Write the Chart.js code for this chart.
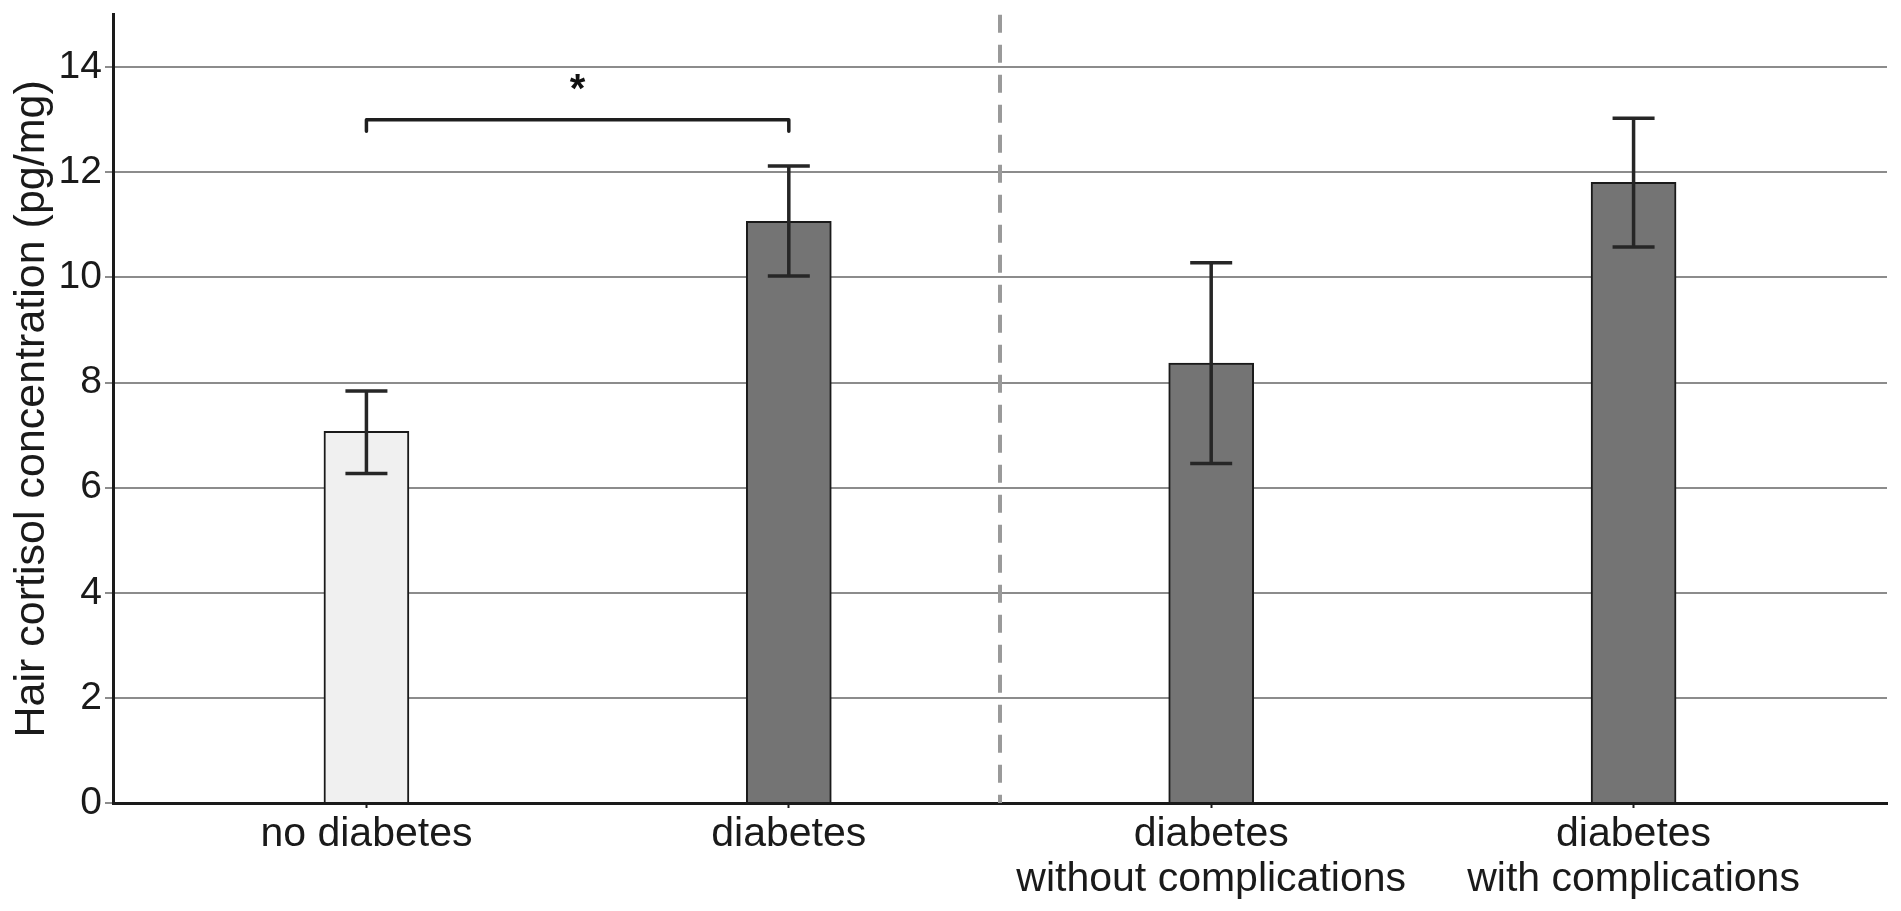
<!DOCTYPE html>
<html>
<head>
<meta charset="utf-8">
<script src="https://cdn.jsdelivr.net/npm/chart.js@4.4.1/dist/chart.umd.min.js"></script>
<style>
  html, body { margin: 0; padding: 0; background: #ffffff; overflow: hidden; }
  #wrap { position: relative; width: 1901px; height: 911px; }
</style>
</head>
<body>
<div id="wrap"><canvas id="c"></canvas></div>
<script>
// ---- data ----
const categories = [
  ["no diabetes"],
  ["diabetes"],
  ["diabetes", "without complications"],
  ["diabetes", "with complications"]
];
const means = [7.07, 11.07, 8.37, 11.81];
const errLow = [6.27, 10.03, 6.46, 10.58];
const errHigh = [7.84, 12.12, 10.28, 13.03];
const barColors = ["#f0f0f0", "#747474", "#747474", "#747474"];
const yTicks = [0, 2, 4, 6, 8, 10, 12, 14];
const yTitle = "Hair cortisol concentration (pg/mg)";
// significance bracket between category 0 and 1
const bracketFrom = 0, bracketTo = 1, bracketY = 13.0, bracketDrop = 12.78;
const starLabel = "*", starY = 13.76;
// dashed separator between groups
const separatorX = 1.5;

const FONT = "'Liberation Sans', Arial, Helvetica, sans-serif";

const overlay = {
  id: 'overlay',
  afterDatasetsDraw(chart) {
    const ctx = chart.ctx;
    const xs = chart.scales.x, ys = chart.scales.y;
    const area = chart.chartArea;
    ctx.save();
    // dashed separator
    ctx.strokeStyle = '#9a9a9a';
    ctx.lineWidth = 4;
    ctx.setLineDash([18, 12]);
    const sx = xs.getPixelForValue(separatorX);
    ctx.beginPath();
    ctx.moveTo(sx, area.top);
    ctx.lineTo(sx, area.bottom);
    ctx.stroke();
    ctx.setLineDash([]);
    // error bars
    ctx.strokeStyle = '#262626';
    ctx.lineWidth = 3.5;
    ctx.lineCap = 'butt';
    const cap = 21;
    means.forEach((m, i) => {
      const px = xs.getPixelForValue(i);
      const lo = ys.getPixelForValue(errLow[i]);
      const hi = ys.getPixelForValue(errHigh[i]);
      ctx.beginPath();
      ctx.moveTo(px, lo); ctx.lineTo(px, hi);
      ctx.moveTo(px - cap, hi); ctx.lineTo(px + cap, hi);
      ctx.moveTo(px - cap, lo); ctx.lineTo(px + cap, lo);
      ctx.stroke();
    });
    // bracket
    ctx.strokeStyle = '#1e1e1e';
    ctx.lineWidth = 3.5;
    ctx.lineCap = 'round';
    ctx.lineJoin = 'round';
    const bx1 = xs.getPixelForValue(bracketFrom), bx2 = xs.getPixelForValue(bracketTo);
    const by = ys.getPixelForValue(bracketY), bd = ys.getPixelForValue(bracketDrop);
    ctx.beginPath();
    ctx.moveTo(bx1, bd); ctx.lineTo(bx1, by); ctx.lineTo(bx2, by); ctx.lineTo(bx2, bd);
    ctx.stroke();
    // star
    ctx.fillStyle = '#111111';
    ctx.font = 'bold 40px ' + FONT;
    ctx.textAlign = 'center';
    ctx.textBaseline = 'alphabetic';
    ctx.fillText(starLabel, xs.getPixelForValue((bracketFrom + bracketTo) / 2), ys.getPixelForValue(starY) + 22);
    ctx.restore();
  }
};

new Chart(document.getElementById('c'), {
  type: 'bar',
  data: {
    datasets: [{
      data: means.map((v, i) => ({ x: i, y: v })),
      backgroundColor: barColors,
      borderColor: '#1a1a1a',
      borderWidth: 2,
      borderSkipped: 'bottom',
      barThickness: 85
    }]
  },
  options: {
    responsive: true,
    maintainAspectRatio: false,
    animation: false,
    events: [],
    layout: { padding: { left: 0, right: 14, top: 14, bottom: 0 } },
    plugins: { legend: { display: false }, tooltip: { enabled: false } },
    scales: {
      x: {
        type: 'linear',
        offset: false,
        min: -0.6,
        max: 3.6,
        afterBuildTicks: (s) => { s.ticks = categories.map((c, i) => ({ value: i })); },
        afterFit: (s) => { s.height = 108; },
        ticks: {
          autoSkip: false,
          maxRotation: 0,
          minRotation: 0,
          padding: 4,
          color: '#1a1a1a',
          font: { family: FONT, size: 41, lineHeight: 1.1 },
          callback: (v) => categories[v]
        },
        grid: {
          display: true,
          offset: false,
          drawOnChartArea: false,
          drawTicks: true,
          tickLength: 5,
          tickColor: '#1a1a1a',
          tickWidth: 2
        },
        border: { display: true, color: '#1a1a1a', width: 3 }
      },
      y: {
        min: 0,
        max: 15,
        afterBuildTicks: (s) => { s.ticks = yTicks.map(v => ({ value: v })); },
        afterFit: (s) => { s.width = 113; },
        ticks: {
          stepSize: 2,
          includeBounds: false,
          padding: 3,
          color: '#1a1a1a',
          font: { family: FONT, size: 39, lineHeight: 0.6 }
        },
        title: {
          display: true,
          text: yTitle,
          color: '#1a1a1a',
          font: { family: FONT, size: 43, lineHeight: 1.1 },
          padding: { top: 8, bottom: 0 }
        },
        grid: {
          color: '#8c8c8c',
          lineWidth: 2,
          tickLength: 8,
          tickColor: '#8c8c8c'
        },
        border: { display: true, color: '#1a1a1a', width: 3 }
      }
    }
  },
  plugins: [overlay]
});
</script>
</body>
</html>
